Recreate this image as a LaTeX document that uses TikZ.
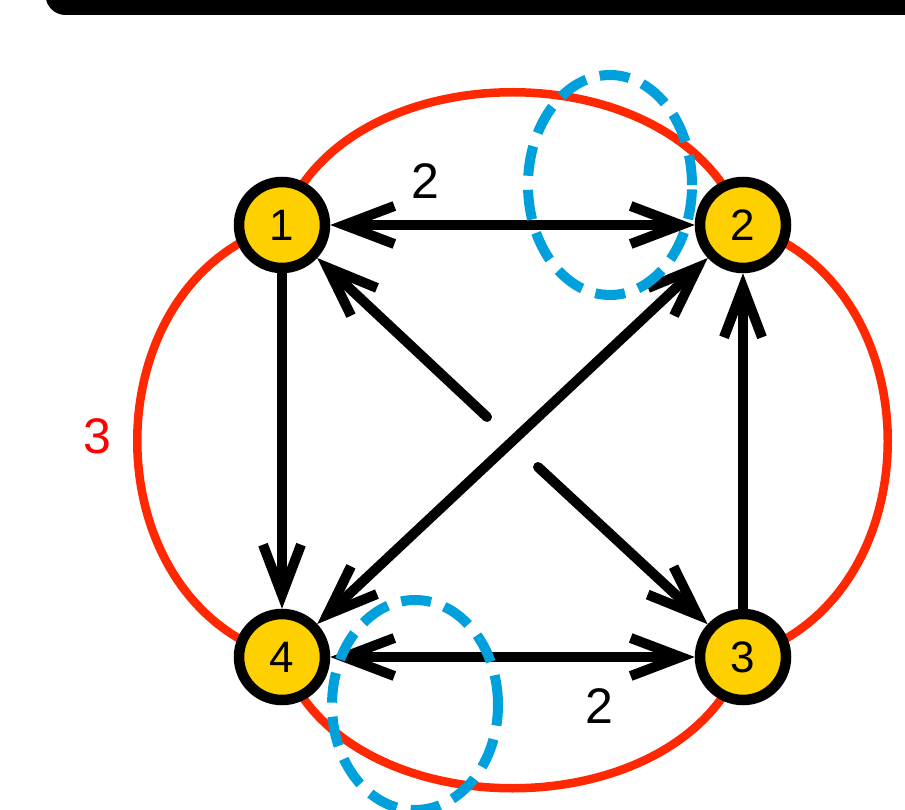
\documentclass[tikz,border=0pt]{standalone}
\usepackage{fontspec}
\setmainfont{Liberation Sans}
\usetikzlibrary{arrows.meta}
\definecolor{nodey}{RGB}{255,208,0}
\definecolor{redc}{RGB}{255,40,0}
\definecolor{bluec}{RGB}{0,160,220}
\definecolor{redtxt}{RGB}{255,0,0}
\begin{document}
\begin{tikzpicture}[x=1pt,y=-1pt,
 vtx/.style={circle, draw=black, line width=10.5pt, fill=nodey, minimum size=86pt, inner sep=0pt, font=\fontsize{44}{50}\selectfont},
 bhead/.tip={Straight Barb[length=50pt,width=38pt,sharp]},
 arr/.style={line width=10pt, -bhead},
 darr/.style={line width=10pt, bhead-bhead},
 redloop/.style={draw=redc, line width=8.5pt},
 blueloop/.style={draw=bluec, line width=10pt, dash pattern=on 30pt off 14pt},
 lbl/.style={font=\fontsize{50}{56}\selectfont, inner sep=0pt}]
\useasboundingbox (0,0) rectangle (905,810);
% top bar
\fill[black, rounded corners=20pt] (45.5,-40) rectangle (960,15);
% node centres
\coordinate (p1) at (282,225);
\coordinate (p2) at (743,225);
\coordinate (p3) at (743,657);
\coordinate (p4) at (282,657);
% red closed curve, behind the nodes
\draw[redloop] (p1) .. controls (342,48) and (683,48) .. (p2)
  .. controls (936,281) and (936,601) .. (p3)
  .. controls (683,832) and (342,832) .. (p4)
  .. controls (89,601) and (89,281) .. (p1);
% nodes
\node[vtx] (n1) at (p1) {1};
\node[vtx] (n2) at (p2) {2};
\node[vtx] (n3) at (p3) {3};
\node[vtx] (n4) at (p4) {4};
\coordinate (c1) at (487,417);
\coordinate (c3) at (538,467);
% arrows
\draw[darr] (n1) -- (n2);
\draw[arr] (n1) -- (n4);
\draw[arr] (n3) -- (n2);
\draw[darr] (n4) -- (n2);
\draw[arr, line cap=round] (c1) -- (n1);
\draw[arr, line cap=round] (c3) -- (n3);
\draw[darr] (n4) -- (n3);
% labels
\node[lbl] (l12) at (425,181) {2};
\node[lbl] (l43) at (599,706) {2};
\node[lbl, text=redtxt] (l3) at (97,436) {3};
% blue dashed ellipses
\draw[blueloop] (610,185) ellipse [x radius=82pt, y radius=110pt];
\draw[blueloop] (415,705) ellipse [x radius=83pt, y radius=105pt];
\end{tikzpicture}
\end{document}
